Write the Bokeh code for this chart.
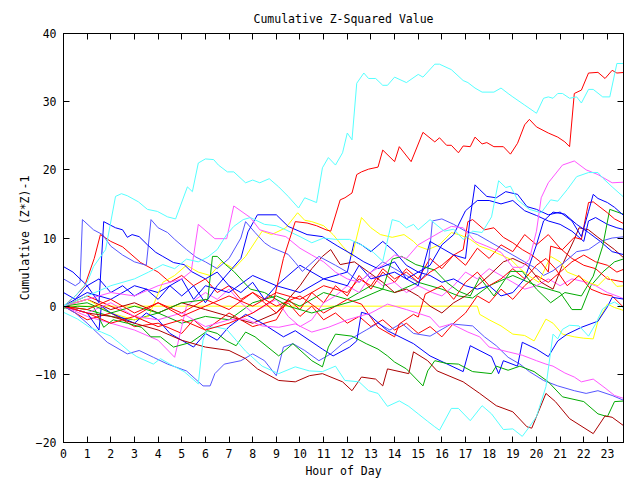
from bokeh.plotting import figure
from bokeh.models import Range1d, LinearAxis, FixedTicker, ColumnDataSource
from bokeh.embed import file_html
from bokeh.resources import INLINE

TITLE = "Cumulative Z-Squared Value"
X_LABEL = "Hour of Day"
Y_LABEL = "Cumulative (Z*Z)-1"
X_TICKS = list(range(0, 24))
Y_TICKS = [-20, -10, 0, 10, 20, 30, 40]

# (hour, cumulative value) pairs, one list per series
cyan_top = [(0,0),(0.5,1.5),(1,3.5),(1.27,5.8),(1.78,8.3),(2.2,16.1),(2.45,16.5),(2.7,16.2),(3.17,15.3),(3.55,14.2),(3.97,13.9),(4.4,13.1),(4.74,12.8),(5.24,17.5),(5.45,16.8),(5.7,21.0),(6.0,21.6),(6.35,21.5),(6.55,20.7),(6.93,19.7),(7.2,19.7),(7.7,18.1),(8.0,18.5),(8.3,18.1),(8.7,18.7),(9.1,17.5),(9.5,16.1),(9.94,14.4),(10.2,15.9),(10.7,15.2),(10.95,20.3),(11.2,21.8),(11.5,20.7),(11.8,22.5),(12.0,25.4),(12.2,24.4),(12.4,32.7),(12.7,34.2),(12.9,33.4),(13.2,33.4),(13.5,32.4),(13.7,32.4),(14.0,33.6),(14.5,32.8),(15.0,34.0),(15.2,33.6),(15.7,35.5),(15.9,35.5),(16.4,34.7),(16.9,33.1),(17.1,32.8),(17.4,32.0),(17.7,31.4),(18.2,31.4),(18.5,32.0),(18.8,31.2),(19.0,30.7),(19.5,29.5),(20.0,28.3),(20.3,30.5),(20.5,30.7),(20.7,30.5),(20.9,31.2),(21.1,31.2),(21.4,30.5),(21.7,30.7),(21.9,29.8),(22.2,31.8),(22.4,31.8),(22.8,30.7),(23.1,30.7),(23.4,35.6),(23.75,35.6)]
red_top = [(0,0),(1,-1),(2,-2.5),(3,-1.5),(4,-3),(5,-2),(6,-3.5),(7,-2.5),(8,-1),(8.9,1.0),(9.3,7.0),(9.8,12.4),(10.3,12.2),(10.7,11.8),(11.1,11.2),(11.3,11.0),(11.7,15.6),(11.9,15.9),(12.2,16.6),(12.4,19.3),(12.6,19.7),(12.9,20.1),(13.3,20.4),(13.5,22.9),(14.0,21.2),(14.2,23.4),(14.7,21.2),(15.2,25.5),(15.7,24.1),(15.9,24.7),(16.2,23.6),(16.4,23.6),(16.7,22.5),(16.9,23.5),(17.2,23.4),(17.4,24.8),(17.7,23.8),(17.9,24.0),(18.2,23.4),(18.6,23.4),(18.9,22.3),(19.2,23.9),(19.5,26.6),(19.7,27.4),(20.0,26.3),(20.5,25.4),(20.9,24.8),(21.2,24.1),(21.4,23.4),(21.6,31.2),(21.9,31.7),(22.2,34.2),(22.6,34.3),(22.9,33.4),(23.2,34.6),(23.4,34.2),(23.75,34.3)]
cyan_low = [(0,-0.9),(0.6,-1.9),(1.1,-3.1),(1.6,-3.8),(2.0,-4.4),(2.4,-5.5),(2.8,-6.7),(3.1,-7.4),(3.8,-8.5),(4.1,-7.7),(4.5,-8.5),(5.1,-9.6),(5.7,-11.4),(5.9,-5.0),(6.1,-3.1),(6.5,-3.1),(6.9,-3.4),(7.3,-5.0),(7.7,-6.6),(8.4,-8.8),(9.1,-9.9),(9.8,-8.9),(10.4,-9.5),(10.95,-9.6),(11.5,-8.8),(11.9,-10.9),(12.5,-11.1),(12.9,-12.4),(13.3,-12.8),(13.7,-14.7),(14.2,-13.9),(14.6,-14.7),(15.0,-15.8),(15.4,-16.9),(15.7,-17.7),(15.9,-18.2),(16.4,-15.0),(16.7,-15.0),(17.2,-16.8),(17.7,-14.6),(18.1,-15.8),(18.6,-18.1),(19.0,-18.0),(19.4,-19.1),(19.7,-17.7),(20.0,-16.2),(20.4,-11.8),(20.7,-4.1),(20.9,-4.8),(21.1,-3.4),(21.4,-2.8),(21.8,-2.9),(22.2,-4.4),(22.5,-2.6),(22.8,-0.4),(23.1,0.3),(23.3,0.6),(23.75,-0.4)]
cyan_mid = [(0,0),(1,1.5),(2,3),(3,4),(3.6,5),(4.2,6.1),(4.7,5.5),(5.2,6.9),(5.7,6.5),(6.1,7.2),(6.5,8.3),(6.9,10.5),(7.2,11.7),(7.6,12.7),(7.9,13.0),(8.5,12),(9.0,11.8),(9.4,11.2),(10.0,10.2),(10.5,9.3),(11.0,10.0),(11.5,9.8),(12.1,9.8),(12.7,8.8),(13.1,7.9),(13.5,6.6),(13.9,12.7),(14.2,12.4),(14.5,11.5),(14.8,12.0),(15.0,11.2),(15.5,12.7),(16.1,11.0),(16.5,11.3),(16.9,9.8),(17.3,11.0),(17.7,10.8),(18.1,13.1),(18.4,18.4),(18.7,17.4),(18.9,17.6),(19.2,15.6),(19.7,14.2),(20.2,13.7),(20.6,15.6),(20.9,15.4),(21.3,17.1),(21.7,19.0),(22.2,19.6),(22.6,19.6),(22.8,18.8),(23.2,17.5),(23.75,15.8)]
magenta_up = [(0,0),(1,1),(2,2),(3,1.5),(4,3),(5,4),(5.4,5.1),(5.7,12.0),(6.4,9.9),(6.9,9.9),(7.2,14.7),(7.9,13.0),(8.3,11.2),(9.0,10.5),(9.4,10.2),(10,8.5),(10.5,7.5),(11,6.5),(11.5,5),(12,4),(12.5,3.5),(13,5),(13.5,6),(14,7.5),(14.5,7),(15,9),(15.5,10),(16.0,11),(16.4,11.7),(16.9,11.5),(17.4,9.5),(17.9,8.8),(18.5,7.9),(19.0,5.7),(19.4,5.7),(19.7,6.9),(20.0,11),(20.2,15.9),(20.5,18.1),(21.1,20.7),(21.6,21.3),(22.1,20.0),(22.6,19.3),(23.2,18.1),(23.75,18.2)]
magenta_low = [(0,0),(1,-1),(2,0.5),(3,-1.5),(4,-2),(5,-1),(6,-3),(7,-2),(7.7,-1.9),(8.4,-2.9),(9.1,-3.1),(9.8,-2.6),(10.5,-3.8),(11.2,-3.1),(12,-2),(13,-1),(13.7,0.3),(14.5,-0.5),(15.5,-1.6),(15.9,-3.1),(16.4,-2.6),(17.1,-3.8),(17.6,-4.5),(18.0,-6.0),(18.8,-6.7),(19.4,-7.2),(20.0,-8.0),(20.4,-8.5),(20.7,-8.8),(21.2,-9.8),(21.6,-10.4),(21.9,-11.1),(22.4,-10.7),(22.9,-12.0),(23.3,-13.1),(23.75,-13.6)]
magenta_mid = [(0,0),(1,-1.5),(2,-2.5),(3,-3.5),(4,-5),(4.7,-7.5),(5.0,-3),(5.2,0),(6,2),(6.5,1),(7,2.5),(7.5,0.5),(8,-1),(8.5,0),(9,1),(9.5,-1.5),(10,-3),(10.5,-2),(11,0.5),(11.5,1.5),(12,3),(12.5,2),(13,4.5),(13.5,3),(14,3.5),(14.5,2),(15,3),(15.6,2),(16,1.5),(16.5,3),(17,5),(17.5,4),(18,5.5),(18.5,4.5),(19,3.5),(19.5,2.5),(20,3),(20.5,4),(21,3),(21.5,4),(22,3.6),(22.5,3),(23,2),(23.4,1.5),(23.75,1)]
green_up = [(0,0),(1,0.5),(2,-1),(3,0),(4,-1),(5,0.5),(6.1,1.0),(6.3,7.3),(6.5,7.3),(6.85,6.1),(7.2,5.1),(7.6,3.6),(7.9,2.5),(8.5,2),(9.5,0),(10.5,-1),(11.5,0),(12.5,1),(13.5,2.5),(13.9,6.9),(14.3,7.3),(14.9,6.1),(15.7,5.3),(16.2,3.5),(16.7,2.2),(17.2,1.5),(17.6,4.2),(18.2,1.5),(18.9,5.1),(19.4,5.1),(20.0,2.5),(20.6,0.5),(21.2,2),(21.9,1.5),(22.4,4.4),(22.8,8.8),(23.1,14.2),(23.75,13.4)]
green_low = [(0,-0.3),(0.6,0),(1.27,-0.1),(1.7,-3.1),(2.1,-2),(2.7,-2.5),(3.3,-3.1),(3.7,-4.5),(4.1,-4.5),(4.65,-6.0),(5.4,-5.3),(6.1,-3.6),(6.5,-4),(6.9,-5.1),(7.3,-5.8),(7.7,-3.8),(8.1,-4.5),(9.1,-7.3),(9.7,-5.5),(10.5,-8.0),(10.95,-8.9),(11.2,-6.0),(11.5,-4.1),(12.2,-4.4),(12.8,-5.5),(13.3,-6.3),(13.7,-7.3),(14.0,-8.2),(14.5,-9.2),(15.2,-11.7),(15.4,-9.5),(15.7,-8.0),(16.2,-8.4),(16.7,-8.5),(17.3,-9.6),(18.1,-9.9),(18.3,-8.8),(18.8,-9.4),(19.3,-8.8),(19.9,-9.6),(20.5,-11.1),(21.1,-13.3),(22.0,-14.0),(22.6,-15.8),(23.0,-16.2),(23.3,-14.0),(23.75,-13.9)]
green_mid = [(0,0),(1,-0.5),(2,-1.5),(3,-2),(4,-1),(5,-2.5),(6,-1.5),(7,-2),(8,0.5),(9,1.5),(10,0),(11,2),(12,1),(13,3),(14,2),(15,3.5),(16,2.5),(16.7,1.5),(17.3,1.2),(18,3),(19,4.5),(20,3),(21,2),(21.5,-0.5),(21.9,-0.5),(22.3,3),(22.8,5),(23.3,6.5),(23.75,7)]
red_mid = [(0,0),(1,-0.5),(2,1),(3,-1),(4,0.5),(5,-1.5),(6,0),(7,1.5),(8,0),(9,2),(10,1),(11,3),(12,2),(12.5,4),(13,3),(13.5,5.5),(14,4),(14.5,5),(15,3.5),(15.5,5),(16,6),(16.5,7.5),(16.9,8.3),(17.1,12.4),(17.3,12.7),(17.8,11.2),(18.2,11.5),(18.6,10.1),(19.0,9.3),(19.4,8.3),(19.8,7.5),(20.2,6.4),(20.5,5.0),(20.6,8.8),(21.1,8.3),(21.6,10.1),(21.9,9.8),(22.2,15.2),(22.4,15.3),(23.0,13.7),(23.3,12.8),(23.75,12.0)]
red_zero = [(0,0),(1,1.5),(2,0),(3,-1.5),(4,0.5),(5,-1),(6,1),(7,-0.5),(8,2),(9,0),(10,1.5),(11,-1),(12,1),(12.6,0.3),(13.3,-3.1),(14.0,-4.5),(14.2,-2.6),(14.8,-1.2),(15.0,-1.6),(15.3,1.8),(16,3),(16.5,1),(17,3.5),(17.5,5),(18,3),(18.5,4),(19,5.5),(19.5,4),(20,6),(20.4,7),(20.8,5.5),(21.3,3),(21.8,4.5),(22.3,2.5),(22.8,1.8),(23.2,1.5),(23.75,-0.4)]
red_early = [(0,0),(0.5,1.5),(0.9,3.0),(1.3,7),(1.56,10.5),(2.0,9.5),(2.5,8.7),(3.26,6.4),(4,5),(4.5,3.5),(5,4.5),(5.5,3),(6,4),(6.5,2),(7,3),(7.5,1),(8,2),(8.5,0.5),(9,-1),(9.5,0.5),(10,-1.5),(10.5,0),(11,-2),(11.5,-1),(12,-2.5),(12.5,-1.5),(13,-3),(13.5,-2),(14,-3.5),(14.5,-2.5),(15,-4),(15.5,-3),(16,-4.5),(16.5,-2.5),(17,-1),(17.5,1.5),(18,0.5),(18.5,2.5),(19,1),(19.5,3),(20,4.5),(20.5,3.5),(21,5),(21.5,6.5),(22,7.5),(22.5,6.5),(23,6),(23.4,5),(23.75,5.5)]
red_rise = [(0,0),(1,-2),(2,-1),(3,-3),(4,-2.5),(5,-4),(5.5,-2),(6,-3.5),(7,-1),(8,-3),(9,-2),(9.5,1),(10,-0.5),(10.5,2),(11,0.5),(11.5,3),(12,1.5),(12.5,4.5),(13,2.5),(13.5,5),(14,3.5),(14.5,5.5),(15,4),(15.5,7),(16,5.5),(16.5,7.5),(17,6),(17.5,8.5),(18,7),(18.5,9),(19,8),(19.5,10.5),(20,9),(20.5,10.5),(21,8.5),(21.5,7),(22,6),(22.5,5.5),(23,4),(23.75,3.5)]
darkred_low = [(0,0),(1,-1),(2,-1.5),(3,-2.5),(4,-3.5),(5,-5),(6,-6),(7,-6.5),(7.7,-7.7),(8.2,-9.2),(9.1,-10.9),(9.8,-11.1),(10.4,-10.2),(10.95,-9.9),(11.8,-11.1),(12.2,-12.4),(12.6,-10.4),(13.2,-10.7),(13.5,-11.7),(13.7,-9.2),(14.6,-9.9),(14.8,-6.7),(15.4,-8.0),(15.8,-9.5),(16.9,-11.1),(17.6,-12.8),(18.3,-14.6),(19.0,-15.5),(19.6,-17.7),(19.8,-17.9),(20.4,-12.8),(20.8,-14.0),(21.4,-16.5),(22.4,-18.7),(22.9,-16.1),(23.2,-16.3),(23.75,-17.7)]
darkred_mid = [(0,0),(1,1),(2,-0.5),(3,0.5),(4,-1),(5,0.5),(6,-0.5),(7,-1.5),(8,-2.5),(9,-1),(9.5,1),(10,3),(10.5,5.5),(10.95,7.3),(11.3,8.3),(11.7,6.1),(12.3,6.5),(12.9,5),(13.5,3.5),(14.0,2),(14.5,2.5),(15,1.5),(15.5,0),(16,-1),(16.5,0.5),(17,1.5),(17.5,3),(18.0,4.5),(18.6,6.5),(19.0,7),(19.6,6),(20.2,3.5),(20.7,2.5),(21.1,6.1),(21.6,9.8),(21.8,11.5),(22.2,11.2),(22.6,10.1),(23.3,8.3),(23.75,6.9)]
blue_a = [(0,2),(0.5,1),(1.0,3),(1.5,0.5),(1.7,12.4),(2.2,11.5),(2.5,11.2),(2.7,10.1),(2.9,10.5),(3.2,10.2),(3.55,9.0),(3.9,7.9),(4.2,7.3),(4.65,6.4),(5.1,6.1),(5.4,5.1),(6,4),(6.5,5),(7,3),(7.5,2),(8,3.5),(8.5,1),(9,3),(10,2),(11,4),(12,3),(12.5,6),(13,4),(14,5),(15,3),(15.5,9.5),(16,8.5),(16.5,7.5),(17.0,7),(17.2,13.1),(17.4,17.8),(17.6,17.1),(17.9,16.1),(18.3,15.9),(18.7,16.8),(19.2,16.4),(19.6,14.6),(20.0,14.2),(20.5,13.4),(21.0,13.8),(21.5,12.5),(21.9,10.2),(22.2,13.9),(22.4,16.4),(22.6,15.8),(23.0,15.2),(23.3,14.5),(23.75,13.1)]
blue_b = [(0,5.8),(0.4,5.0),(1,3),(1.5,4),(2,2),(2.5,3),(3,1.5),(3.5,2.5),(4,1),(4.5,3),(5,1.5),(5.5,3),(6,0.5),(6.5,3),(7,5),(7.5,7),(7.8,10.9),(8.2,13.4),(9.0,13.4),(9.5,11.7),(10.3,10.5),(10.95,10.2),(11.6,8.8),(12.2,7.6),(12.7,6.5),(13.3,5.5),(14,6.5),(14.5,4),(15,5),(15.5,6),(16,9),(16.5,10.5),(17,14),(17.5,15.5),(18,15.5),(18.5,15.0),(19,15.5),(19.5,14.0),(20,13.3),(20.5,12.5),(21,12),(21.5,11),(22,9.5),(22.2,12.5),(22.5,13.0),(23,12),(23.4,11.5),(23.75,11.2)]
blue_c = [(0,0),(1,-1),(1.5,-3.5),(1.6,0),(2,-1),(3,-2.5),(3.5,-1),(4,-2),(4.5,-4),(5,-5),(5.5,-6),(6,-4),(6.5,-5),(7,-3),(7.7,-1.2),(8.4,-2.5),(9.3,-4.5),(9.8,-3.6),(10.95,-6.3),(11.4,-7.3),(12.1,-6.0),(12.4,-5.1),(12.6,-0.9),(12.9,-1.2),(13.7,-3.6),(14.8,-5.5),(15.5,-7.3),(16.9,-9.6),(17.2,-5.8),(18.1,-7.4),(18.4,-9.9),(18.6,-8.0),(19.2,-8.8),(19.4,-5.3),(20.0,-6.3),(20.5,-7.4),(20.9,-5.1),(21.3,-4.1),(21.9,-3.1),(22.6,-2.2),(23.0,-0.1),(23.2,1.3),(23.75,1.0)]
blue_d = [(0,0),(1,2),(2,1),(3,3),(4,2),(5,4),(5.5,1),(6,3),(7,2),(8,4.5),(9,3),(10,6),(11,4),(12,5),(12.3,9.5),(12.6,9),(13,8),(13.5,9.5),(14,8),(14.5,6),(15,5),(15.5,4.5),(16,3.5),(16.5,4),(17,3),(17.5,2.5),(18,3),(18.5,1.5),(19,2),(19.5,4),(20,9),(20.3,12.5),(20.7,13.8),(21.2,13.5),(21.7,12),(22.2,10.8),(22.7,9.5),(23.2,8),(23.75,7.5)]
lblue_up = [(0,4.0),(0.5,3),(0.7,3.5),(0.8,12.7),(1.27,11.2),(1.65,10.5),(2.0,8.8),(2.5,7.5),(3.0,6.5),(3.5,6),(3.7,12.7),(4.0,11.5),(4.4,10.8),(4.7,9.8),(5.2,8.3),(5.6,7.2),(6,6.5),(6.5,5.5),(7,7),(7.5,10),(7.7,12.4),(8.1,10.8),(8.5,9.3),(8.8,8.6),(9.5,7.6),(9.8,6.4),(10.1,5.1),(10.8,7.3),(11.5,6),(12,5),(12.5,3.5),(13,5),(13.5,6.5),(14,5.5),(14.5,4.5),(15,3.5),(15.4,5),(15.6,12.5),(16,12.8),(16.5,12.0),(17,11),(17.5,10.5),(18,9.5),(18.5,8.5),(19,7.5),(19.5,6.5),(20,5.5),(20.3,4.5),(20.7,5.2),(21.2,6.5),(21.7,8),(22.2,8.3),(22.7,9.5),(23.2,10),(23.75,10.2)]
lblue_low = [(0,0),(0.5,-1),(1,-2.5),(1.85,-5.3),(2.7,-7.0),(3.2,-6.5),(3.8,-7.5),(4.4,-8.5),(5.2,-9.5),(5.9,-11.7),(6.2,-11.7),(6.4,-9.9),(6.8,-8.5),(7.5,-8.0),(8.0,-7.0),(8.5,-8),(9.0,-10.2),(9.3,-6),(9.7,-5.5),(10.2,-6.5),(10.8,-8),(11.3,-7),(11.8,-5.5),(12.3,-4.5),(12.8,-3.5),(13.3,-2.5),(13.8,-3.5),(14.3,-2.5),(14.8,-4),(15.5,-4.4),(16.4,-2.6),(17.3,-2.9),(17.8,-4.5),(18.3,-5.8),(18.8,-7.5),(19.3,-8.5),(19.7,-9.6),(20.3,-10.9),(20.9,-11.7),(21.6,-12.4),(22.1,-12.8),(22.6,-12.4),(23.2,-13.1),(23.75,-13.9)]
yellow_a = [(0,0),(1,1),(2,-1),(3,-2),(3.6,-1.5),(3.9,1),(4.2,3.5),(4.7,4.5),(5.2,6),(5.7,5),(6.2,4.5),(6.7,6.5),(7.2,5.5),(7.7,7.3),(8.4,11.0),(8.8,10.5),(9.4,11.5),(9.9,13.7),(10.2,12.6),(10.5,12.4),(11.0,11.8),(11.4,10.5),(11.8,8.8),(12.2,7.3),(12.6,13.0),(13.0,11.5),(13.4,10.5),(13.9,10.1),(14.4,10.5),(14.8,9.5),(15.0,8.8),(15.4,8.3),(15.9,9.0),(16.4,10.8),(16.8,10.4),(17.2,9.8),(17.6,8.8),(18.0,8.3),(18.5,7.5),(18.9,6.9),(19.3,5.5),(19.7,4.4),(20.1,3.5),(20.6,7.3),(21.0,6.5),(21.3,5.0),(21.8,4.3),(22.2,3.5),(22.6,3.0),(23.0,4.4),(23.4,2.9),(23.75,3.0)]
yellow_b = [(0,0),(17.5,0),(17.6,-1.2),(18.0,-2.0),(18.5,-2.9),(19.0,-4.1),(19.5,-4.3),(19.9,-5.1),(20.4,-1.9),(20.7,-2.5),(21.1,-4.1),(21.6,-4.5),(22.0,-4.7),(22.4,-4.8),(22.6,-2.2),(23.0,0.3),(23.3,-0.2),(23.75,-0.7)]

CYAN, MAGENTA, LBLUE = "#55ffff", "#ff55ff", "#5555ff"
BLUE, RED, DRED, GREEN, YELLOW = "#0000ff", "#ff0000", "#aa0000", "#00aa00", "#ffff00"

SERIES = [
    (yellow_b, YELLOW), (green_mid, GREEN), (red_rise, RED), (magenta_mid, MAGENTA),
    (darkred_mid, DRED), (red_early, RED), (blue_d, BLUE), (yellow_a, YELLOW),
    (lblue_low, LBLUE), (lblue_up, LBLUE), (red_zero, RED), (blue_c, BLUE),
    (green_low, GREEN), (darkred_low, DRED), (magenta_low, MAGENTA), (blue_b, BLUE),
    (green_up, GREEN), (red_mid, RED), (blue_a, BLUE), (magenta_up, MAGENTA),
    (cyan_mid, CYAN), (cyan_low, CYAN), (red_top, RED), (cyan_top, CYAN),
]

FONT = "DejaVu Sans Mono"
FS = "11.5px"

p = figure(width=640, height=480, output_backend="svg", toolbar_location=None,
           x_range=Range1d(0, 23.68), y_range=Range1d(-20, 40),
           min_border_left=63, min_border_right=17, min_border_top=33, min_border_bottom=36)
p.title.text = TITLE
p.title.align = "center"
p.title.text_font = FONT
p.title.text_font_size = FS
p.title.text_font_style = "normal"
p.title.text_color = "black"
p.title.standoff = 16
p.outline_line_color = "black"
p.outline_line_width = 1
p.grid.visible = False
p.background_fill_color = "white"
p.border_fill_color = "white"

for data, color in SERIES:
    src = ColumnDataSource(dict(x=[d[0] for d in data], y=[d[1] for d in data]))
    p.line("x", "y", source=src, line_color=color, line_width=1)

def style_axis(ax, ticks, show_labels=True):
    ax.ticker = FixedTicker(ticks=ticks)
    ax.major_tick_in = 6
    ax.major_tick_out = 0
    ax.minor_tick_in = 0
    ax.minor_tick_out = 0
    ax.axis_line_color = "black"
    ax.major_tick_line_color = "black"
    ax.major_label_text_font = FONT
    ax.major_label_text_font_size = FS
    ax.major_label_text_color = "black"
    if not show_labels:
        ax.major_label_overrides = {t: "" for t in ticks}
    ax.axis_label_text_font = FONT
    ax.axis_label_text_font_size = FS
    ax.axis_label_text_font_style = "normal"
    ax.axis_label_text_color = "black"

xa = p.xaxis[0]
style_axis(xa, X_TICKS)
xa.axis_label = X_LABEL
xa.major_label_standoff = 6
xa.axis_label_standoff = 3

ya = p.yaxis[0]
style_axis(ya, Y_TICKS)
ya.axis_label = Y_LABEL
ya.major_label_standoff = 7
ya.axis_label_standoff = 1

top = LinearAxis()
style_axis(top, X_TICKS, show_labels=False)
top.major_label_standoff = 0
p.add_layout(top, "above")

right = LinearAxis()
style_axis(right, Y_TICKS, show_labels=False)
right.major_label_standoff = 0
p.add_layout(right, "right")

open("out.html", "w").write(file_html(p, INLINE))
